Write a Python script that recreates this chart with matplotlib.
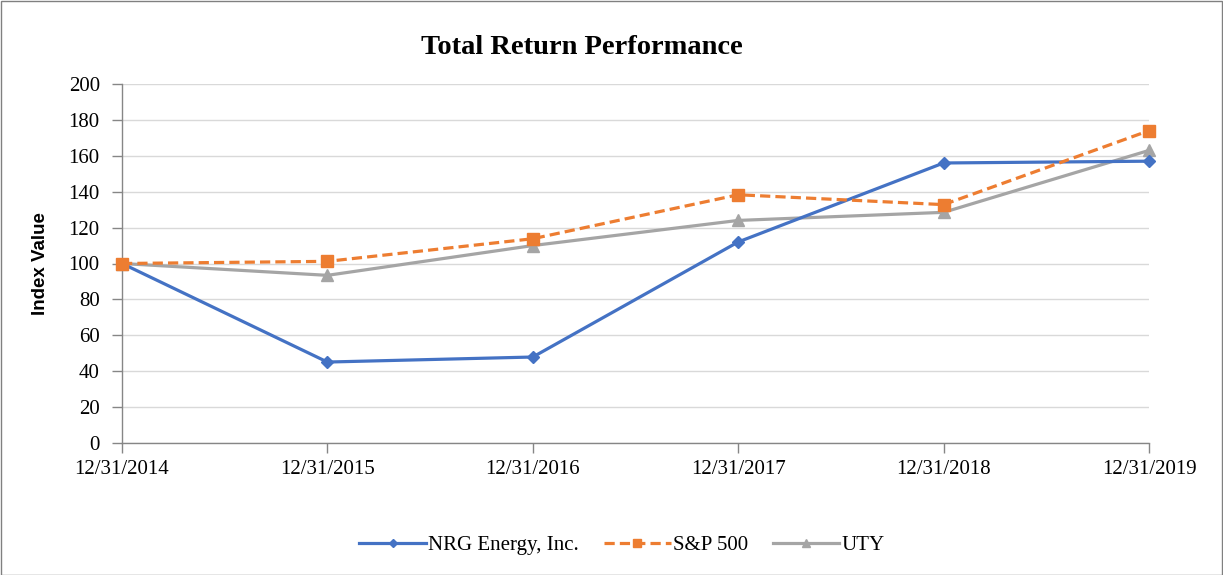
import matplotlib
matplotlib.use("Agg")
import matplotlib.pyplot as plt
from matplotlib.patches import Rectangle

dates = ["12/31/2014", "12/31/2015", "12/31/2016", "12/31/2017", "12/31/2018", "12/31/2019"]
nrg = [100, 45.1, 47.9, 112, 156, 157]
sp500 = [100, 101.2, 113.8, 138.3, 132.8, 174]
uty = [100, 93.4, 110, 124, 128.5, 163]
yticks = [0, 20, 40, 60, 80, 100, 120, 140, 160, 180, 200]

W, H = 1223, 575
fig = plt.figure(figsize=(W / 100, H / 100), dpi=100)
ax = fig.add_axes([122 / W, 1 - 443 / H, (1149 - 122) / W, (443 - 84) / H])

x = list(range(len(dates)))
ax.plot(x, nrg, color="#4472C4", lw=2.3, marker="D", ms=6, label="NRG Energy, Inc.", zorder=3, clip_on=False)
ax.plot(x, sp500, color="#ED7D31", lw=2.3, ls=(0, (3.2, 1.6)), marker="s", ms=8, label="S&P 500", zorder=4, clip_on=False)
ax.plot(x, uty, color="#A5A5A5", lw=2.3, marker="^", ms=8, label="UTY", zorder=2, clip_on=False)

ax.set_xlim(0, len(dates) - 1)
ax.set_ylim(0, 200)
ax.set_yticks(yticks)
ax.set_xticks(x)
ax.set_xticklabels(dates)
serif = ["Liberation Serif", "DejaVu Serif"]
for lab in ax.get_xticklabels() + ax.get_yticklabels():
    lab.set_fontfamily(serif)
    lab.set_fontsize(15)
    lab.set_color("#000000")
ax.grid(axis="y", color="#D9D9D9", lw=1)
ax.set_axisbelow(True)
for s in ["top", "right"]:
    ax.spines[s].set_visible(False)
for s in ["left", "bottom"]:
    ax.spines[s].set_color("#868686")
    ax.spines[s].set_linewidth(1)
ax.tick_params(axis="both", color="#868686", length=7, width=1, direction="out", pad=5)
ax.tick_params(axis="y", pad=9)

ax.set_ylabel("Index Value", fontfamily=["Liberation Sans", "DejaVu Sans"], fontweight="bold", fontsize=13.5, labelpad=14)

fig.text(582 / W, 1 - 47 / H, "Total Return Performance", ha="center", va="center",
         fontfamily=serif, fontweight="bold", fontsize=20.5)

leg = fig.legend(loc="center", bbox_to_anchor=(622 / W, 1 - 545 / H), ncol=3, frameon=False,
                 prop={"family": serif, "size": 15}, handlelength=3.2, columnspacing=1.2, handletextpad=0.1,
                 markerscale=0.75)

fig.patches.append(Rectangle((0.5 / W, 0.5 / H), 1 - 1.5 / W, 1 - 1.5 / H, transform=fig.transFigure,
                             fill=False, edgecolor="#808080", lw=1))

fig.savefig("out.png", dpi=100, facecolor="white")
